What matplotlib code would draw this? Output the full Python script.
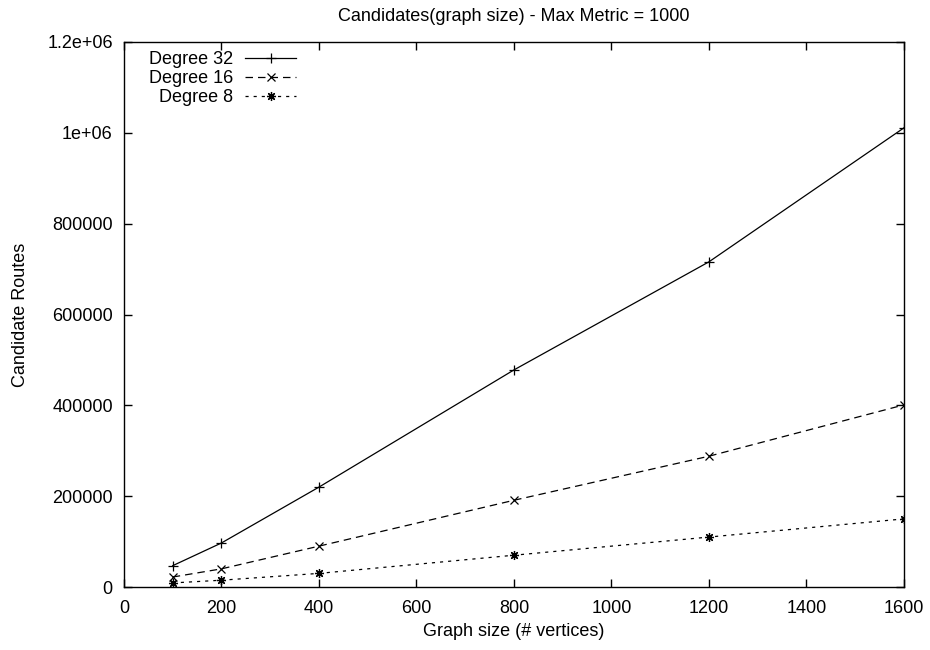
import matplotlib
matplotlib.use("Agg")
import matplotlib.pyplot as plt
from matplotlib.ticker import FixedLocator, FixedFormatter

plt.rcParams['font.family'] = ['Liberation Sans', 'DejaVu Sans']
plt.rcParams['font.size'] = 13

graph_size = [100, 200, 400, 800, 1200, 1600]
degree32 = [47000, 97000, 220000, 478000, 716000, 1011000]
degree16 = [22000, 40000, 90000, 191000, 288000, 401000]
degree8 = [9000, 15000, 30000, 70000, 110000, 150000]

x_ticks = [0, 200, 400, 600, 800, 1000, 1200, 1400, 1600]
y_ticks = [0, 200000, 400000, 600000, 800000, 1000000, 1200000]
y_tick_labels = ["0", "200000", "400000", "600000", "800000", "1e+06", "1.2e+06"]

fig = plt.figure(figsize=(9.3, 6.5), dpi=100)
ax = fig.add_axes([0.1333, 0.0969, 0.8387, 0.8385])

ax.plot(graph_size, degree32, color='black', lw=0.9, linestyle='-',
        marker='+', markersize=6.5, markeredgewidth=0.9, label='Degree 32')
ax.plot(graph_size, degree16, color='black', lw=0.9, linestyle=(0, (6, 4)),
        marker='x', markersize=6, markeredgewidth=0.9, label='Degree 16')
ax.plot(graph_size, degree8, color='black', lw=0.9, linestyle=(0, (2.5, 4)),
        marker=(8, 2, 0), markersize=6.5, markeredgewidth=0.9, label='Degree 8')

ax.set_xlim(0, 1600)
ax.set_ylim(0, 1200000)
ax.xaxis.set_major_locator(FixedLocator(x_ticks))
ax.yaxis.set_major_locator(FixedLocator(y_ticks))
ax.yaxis.set_major_formatter(FixedFormatter(y_tick_labels))
ax.tick_params(direction='in', length=6, width=1, top=True, right=True,
               labelsize=13, colors='black')
ax.tick_params(axis='y', pad=8)
ax.tick_params(axis='x', pad=9)
for s in ax.spines.values():
    s.set_linewidth(1.0)

ax.set_title("Candidates(graph size) - Max Metric = 1000", fontsize=13, pad=15)
ax.set_xlabel("Graph size (# vertices)", fontsize=13, labelpad=5)
ax.set_ylabel("Candidate Routes", fontsize=13, labelpad=13)

ax.legend(loc='upper right', bbox_to_anchor=(0.2205, 0.9835), frameon=False,
          markerfirst=False, handlelength=2.8, handletextpad=0.67,
          labelspacing=0.12, borderaxespad=0.0, borderpad=0.0, fontsize=13)

fig.savefig("out.png", dpi=100)
